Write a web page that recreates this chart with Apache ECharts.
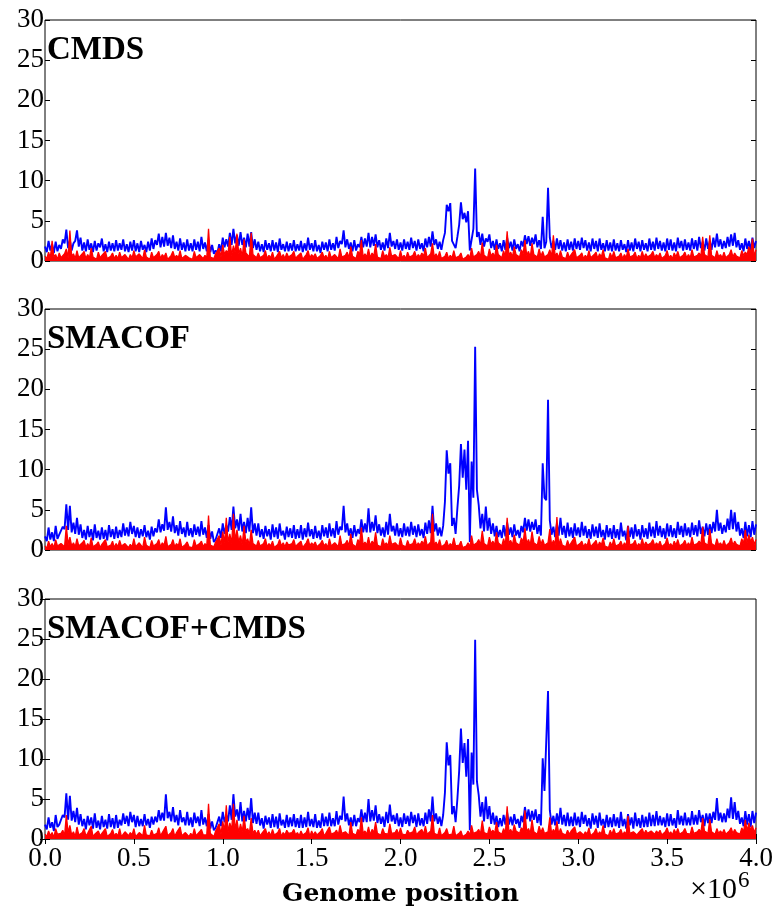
<!DOCTYPE html>
<html>
<head>
<meta charset="utf-8">
<script src="https://cdn.jsdelivr.net/npm/echarts@6/dist/echarts.min.js"></script>
<style>
  html, body { margin: 0; padding: 0; background: #fff; }
  #chart { width: 778px; height: 911px; }
</style>
</head>
<body>
<div id="chart"></div>
<script>
// Bin size along the genome (bp); bin j sits at j * BIN.
const BIN = 10000;

const methodNames = ['CMDS', 'SMACOF', 'SMACOF+CMDS'];
const yTicks = [0, 5, 10, 15, 20, 25, 30];
const xTicks = [0, 0.5, 1.0, 1.5, 2.0, 2.5, 3.0, 3.5, 4.0]; // ×10^6
const xAxisTitle = 'Genome position';

// CMDS
const cmdsBlue = [
  1.8,1.1, 2.5,1.3, 2.1,1.0, 2.4,1.2, 2.0,1.5, 2.7,2.2, 3.9,1.6, 2.6,1.3, 2.2,2.5, 3.8,1.8,
  2.9,1.3, 2.3,1.2, 2.7,1.4, 2.2,1.1, 2.5,1.3, 2.2,1.7, 2.8,1.2, 2.1,1.1, 2.4,1.3, 2.2,1.2,
  2.6,1.3, 2.2,1.4, 2.7,1.2, 2.1,1.1, 2.4,1.3, 2.6,1.2, 2.2,1.1, 2.5,1.4, 2.0,1.1, 2.4,1.3,
  2.8,1.5, 2.6,2.0, 3.4,1.7, 3.0,1.8, 3.5,1.9, 2.9,1.6, 3.2,1.5, 2.4,1.3, 2.8,1.4, 2.3,1.2,
  2.7,1.3, 2.2,1.2, 2.7,1.4, 2.4,1.2, 3.0,1.5, 2.3,1.2, 2.6,1.1, 2.0,0.9, 1.3,1.0, 2.1,1.2,
  2.9,1.7, 2.7,1.8, 3.5,2.0, 4.0,2.2, 3.2,1.9, 3.6,2.0, 2.9,1.7, 3.4,1.8, 3.6,1.6, 2.7,1.4,
  2.4,1.2, 2.1,1.1, 2.6,1.4, 2.2,1.2, 2.6,1.3, 2.3,1.1, 2.8,1.4, 2.1,1.2, 2.4,1.2, 2.2,1.3,
  2.6,1.2, 2.1,1.3, 2.5,1.1, 2.2,1.3, 2.9,1.4, 2.2,1.2, 2.6,1.2, 2.0,1.0, 2.4,1.4, 2.3,1.2,
  2.7,1.4, 2.2,1.3, 3.0,1.6, 2.5,2.1, 3.8,1.7, 2.7,1.5, 2.3,1.2, 2.6,1.3, 2.1,1.7, 3.0,1.7,
  2.8,1.8, 3.5,1.7, 3.0,1.9, 3.3,1.7, 2.6,1.4, 2.3,1.3, 2.8,1.6, 3.5,1.8, 2.5,1.5, 2.7,1.4,
  2.3,1.3, 2.7,1.5, 2.4,1.4, 2.9,1.6, 2.5,1.3, 2.7,1.5, 2.2,1.2, 2.8,1.7, 3.0,1.8, 3.7,2.0,
  2.7,1.5, 2.4,1.4, 2.6,3.5, 7.0,6.2, 7.2,2.5, 2.7,1.6, 3.0,4.5, 7.3,5.2, 6.0,4.8, 6.2,1.3,
  1.2,4.0, 11.5,3.0, 3.6,2.0, 3.4,1.8, 2.8,2.4, 3.3,1.6, 2.5,1.4, 2.7,1.5, 2.2,1.2, 2.6,1.4,
  2.9,1.6, 2.4,1.3, 2.7,1.5, 2.1,1.2, 2.5,1.8, 3.2,2.1, 3.1,1.9, 2.9,2.1, 3.3,1.7, 2.6,1.5,
  5.5,1.6, 2.4,9.1, 2.9,1.6, 2.5,1.4, 2.8,1.5, 2.6,1.3, 2.3,1.2, 2.7,1.4, 2.4,1.3, 2.8,1.5,
  2.5,1.4, 2.9,1.6, 2.6,1.3, 2.3,1.2, 2.8,1.5, 2.5,1.2, 2.8,1.4, 2.2,1.2, 2.6,1.3, 2.3,1.2,
  2.7,1.3, 2.2,1.2, 2.6,1.4, 2.1,1.1, 2.6,1.3, 2.3,1.2, 2.8,1.5, 2.4,1.2, 2.6,1.4, 2.2,1.2,
  2.8,1.4, 2.4,1.3, 2.9,1.5, 2.5,1.3, 2.3,1.2, 2.8,1.4, 2.7,1.3, 2.3,1.2, 2.9,1.6, 2.5,1.3,
  2.7,1.4, 2.3,1.3, 2.8,1.5, 2.6,1.3, 3.0,1.6, 2.4,1.3, 2.8,1.5, 2.5,1.4, 2.9,1.7, 3.4,1.8,
  2.7,1.5, 2.5,1.6, 3.0,1.8, 3.3,1.9, 3.5,1.7, 2.6,1.4, 2.2,1.2, 2.8,1.5, 2.5,1.3, 2.9,1.6, 2.5
];
const cmdsRed = [
  0.6,0.3, 1.1,0.4, 2.5,0.5, 0.8,0.2, 1.0,0.4, 0.5,0.9, 1.5,0.4, 3.8,0.6, 0.9,0.3, 1.3,0.4,
  0.5,0.9, 1.2,0.3, 0.8,0.4, 1.6,0.5, 0.6,0.2, 1.1,0.4, 0.7,0.8, 1.2,0.3, 0.4,0.6, 1.0,0.3,
  0.7,0.3, 1.1,0.4, 0.5,0.8, 1.0,0.2, 0.8,0.4, 1.3,0.5, 0.5,0.9, 0.9,0.3, 1.4,0.5, 0.6,0.2,
  1.1,0.4, 0.5,0.8, 1.2,0.3, 0.8,0.5, 1.0,0.2, 0.4,0.7, 1.2,0.4, 0.7,0.4, 1.3,0.3, 0.5,0.7,
  0.9,0.4, 0.6,0.2, 1.2,0.4, 0.5,0.8, 1.0,0.3, 0.7,0.4, 4.0,0.5, 0.7,0.3, 0.9,0.7, 1.6,0.5,
  2.0,0.8, 1.3,1.0, 3.0,0.7, 1.9,1.1, 3.4,0.9, 1.6,0.6, 2.7,1.0, 1.2,0.5, 3.5,0.8, 0.9,0.4,
  1.0,0.4, 0.5,0.7, 1.3,0.3, 0.7,0.4, 1.1,0.2, 0.5,0.6, 1.2,0.4, 0.8,0.3, 1.0,0.5, 0.4,0.8,
  1.2,0.3, 0.6,0.4, 1.0,0.2, 0.5,0.8, 1.3,0.4, 0.8,0.5, 0.9,0.3, 0.4,0.7, 1.1,0.4, 0.7,0.2,
  1.2,0.4, 0.6,0.8, 1.0,0.3, 1.5,0.5, 0.5,0.7, 1.1,0.4, 1.8,0.6, 0.7,0.3, 1.2,0.8, 2.6,0.5,
  0.9,0.5, 1.5,0.4, 1.0,0.6, 2.1,0.5, 0.6,0.3, 1.3,0.5, 0.8,0.4, 1.7,0.6, 0.5,0.8, 1.0,0.3,
  1.3,0.4, 0.7,0.3, 1.1,0.5, 0.5,0.7, 1.2,0.4, 0.8,0.5, 1.0,0.6, 1.6,0.4, 0.6,0.9, 2.2,0.5,
  0.9,0.4, 1.2,0.3, 0.5,0.6, 1.1,0.3, 0.7,0.4, 1.3,0.4, 0.4,0.6, 1.0,0.2, 0.3,0.5, 0.8,0.4,
  1.6,0.5, 0.6,0.8, 1.2,0.5, 2.3,0.7, 0.8,0.4, 1.5,0.6, 1.0,0.5, 2.0,0.8, 0.7,0.4, 1.3,0.5,
  3.7,0.7, 1.1,0.5, 1.8,0.8, 0.9,0.5, 1.4,0.9, 2.6,0.7, 1.2,0.5, 2.2,0.8, 0.9,0.5, 1.5,0.6,
  1.2,0.5, 0.7,0.8, 1.4,0.5, 3.2,0.6, 1.0,0.4, 1.3,0.5, 0.6,0.3, 1.1,0.4, 0.8,0.6, 1.4,0.4,
  0.6,0.7, 1.0,0.3, 0.7,0.4, 1.3,0.4, 0.5,0.8, 1.1,0.3, 0.9,0.5, 1.4,0.4, 0.6,0.2, 1.0,0.4,
  1.2,0.4, 0.5,0.6, 1.0,0.3, 0.8,0.4, 1.5,0.5, 0.4,0.7, 1.1,0.3, 0.7,0.4, 1.2,0.4, 0.9,0.5,
  0.6,0.8, 1.2,0.4, 0.8,0.5, 1.0,0.3, 0.5,0.7, 1.3,0.4, 0.7,0.3, 1.0,0.5, 1.2,0.4, 0.6,0.7,
  1.1,0.4, 0.8,0.4, 1.4,0.5, 0.5,0.7, 1.0,0.6, 3.0,0.8, 0.9,0.5, 3.2,0.7, 0.7,0.4, 1.3,0.5,
  0.8,0.4, 1.1,0.4, 0.6,0.8, 1.4,0.5, 1.0,0.6, 0.7,0.4, 1.3,0.7, 1.1,0.8, 1.8,0.9, 2.8,0.6, 1.4
];

// SMACOF
const smacofBlue = [
  1.7,1.1, 2.8,1.3, 2.2,1.1, 3.0,1.4, 1.9,1.7, 2.9,2.6, 5.7,2.5, 5.5,2.2, 3.4,2.0, 4.0,1.9,
  3.2,1.5, 2.5,1.3, 3.0,1.6, 2.6,1.2, 3.2,1.5, 2.4,1.3, 2.8,1.4, 2.5,1.2, 3.1,1.6, 2.6,1.4,
  2.9,1.5, 2.5,1.6, 3.3,1.8, 2.8,1.7, 3.5,2.0, 3.0,1.6, 2.8,1.5, 2.6,1.7, 3.1,1.6, 2.4,1.3,
  2.9,1.7, 2.7,2.2, 3.8,2.2, 3.2,2.4, 5.3,2.5, 3.5,2.3, 4.2,2.1, 3.1,1.8, 3.6,2.0, 2.8,1.6,
  3.5,1.8, 2.7,1.6, 3.2,1.9, 2.9,1.7, 3.6,1.9, 2.8,1.5, 3.1,1.4, 2.3,1.0, 1.3,1.2, 2.7,1.5,
  3.3,2.0, 3.1,2.3, 4.1,2.5, 5.4,2.7, 3.8,2.4, 4.5,2.3, 3.5,2.1, 4.0,2.3, 5.3,2.1, 3.3,1.8,
  3.3,1.6, 2.6,1.4, 3.0,1.7, 2.6,1.3, 3.2,1.6, 2.8,1.4, 3.3,1.8, 2.4,1.3, 2.9,1.6, 2.7,1.5,
  3.1,1.4, 2.6,1.5, 3.1,1.3, 2.7,1.6, 3.4,1.7, 2.6,1.4, 3.0,1.5, 2.4,1.3, 3.1,1.7, 2.8,1.5,
  3.3,1.7, 2.7,1.5, 3.6,1.9, 2.9,2.5, 5.5,2.2, 3.3,1.8, 2.7,1.5, 3.1,1.7, 2.6,2.0, 3.8,2.2,
  3.3,2.2, 5.2,2.2, 3.5,2.4, 4.3,2.1, 3.2,1.8, 2.8,1.6, 3.5,1.9, 4.5,2.3, 3.0,1.8, 3.3,1.7,
  2.7,1.6, 3.3,1.8, 2.9,1.7, 3.5,1.9, 3.0,1.6, 3.2,1.8, 2.6,1.5, 3.4,2.0, 3.7,2.1, 5.5,2.3,
  3.3,1.8, 2.8,1.7, 3.0,6.0, 12.4,9.5, 10.8,3.0, 4.0,2.0, 5.2,8.0, 13.2,9.0, 12.5,7.5, 13.6,1.0,
  11.0,6.5, 25.3,7.5, 5.6,2.7, 4.5,2.3, 5.4,2.4, 4.0,2.0, 3.3,1.7, 3.0,1.6, 2.5,1.5, 3.1,1.7,
  3.4,1.9, 2.8,1.6, 3.2,1.8, 2.5,1.5, 3.0,2.2, 4.0,2.4, 3.8,2.3, 3.5,2.5, 3.8,2.0, 3.1,1.8,
  10.8,6.5, 6.2,18.7, 3.7,1.9, 2.9,1.6, 3.3,1.8, 4.0,1.9, 3.0,1.5, 3.4,1.7, 2.8,1.5, 3.3,1.8,
  2.8,1.6, 3.5,1.8, 3.0,1.5, 2.6,1.4, 3.2,1.7, 2.9,1.5, 3.3,1.6, 2.5,1.3, 3.1,1.6, 2.7,1.4,
  3.1,1.5, 2.6,1.3, 3.4,1.7, 2.4,1.2, 3.0,1.6, 2.8,1.4, 3.2,1.7, 2.6,1.3, 3.1,1.6, 2.7,1.4,
  3.4,1.7, 2.9,1.5, 3.6,1.8, 3.0,1.6, 2.7,1.4, 3.3,1.7, 3.1,1.6, 2.7,1.5, 3.5,1.9, 3.0,1.6,
  3.3,1.8, 2.8,1.6, 3.4,1.9, 3.1,1.7, 3.7,2.0, 2.9,1.7, 3.3,1.9, 3.2,2.1, 3.5,2.3, 5.0,2.4,
  3.4,2.0, 3.1,2.2, 3.9,2.5, 5.0,2.6, 4.7,2.3, 3.5,1.8, 2.7,1.5, 3.5,1.7, 3.1,1.6, 3.6,1.9, 3.2
];
const smacofRed = [
  0.5,0.2, 1.1,0.4, 0.8,0.3, 1.3,0.5, 0.4,0.8, 1.0,0.4, 3.0,0.7, 1.6,0.5, 0.9,0.4, 1.4,0.5,
  0.6,0.9, 1.2,0.3, 0.8,0.4, 1.5,0.4, 0.5,0.7, 1.0,0.3, 0.7,0.5, 1.3,0.4, 0.4,0.6, 1.1,0.3,
  0.8,0.4, 1.2,0.5, 0.5,0.8, 1.0,0.3, 0.7,0.4, 1.4,0.4, 0.4,0.9, 1.0,0.3, 1.6,0.6, 0.6,0.3,
  1.2,0.5, 0.5,0.8, 1.3,0.4, 0.9,0.6, 1.7,0.4, 0.6,0.7, 1.3,0.4, 0.8,0.5, 1.4,0.3, 0.4,0.7,
  1.0,0.4, 0.6,0.3, 1.3,0.5, 0.5,0.8, 1.1,0.4, 0.8,0.5, 4.3,0.6, 0.7,0.4, 1.0,0.8, 1.8,0.6,
  2.3,0.9, 4.0,1.0, 2.0,0.8, 4.5,1.2, 2.5,1.0, 1.8,0.7, 3.0,1.0, 1.4,0.6, 2.5,0.8, 1.0,0.5,
  1.2,0.5, 0.6,0.8, 1.4,0.4, 0.8,0.5, 1.1,0.3, 0.5,0.7, 1.3,0.5, 0.9,0.4, 1.0,0.6, 0.4,0.8,
  1.3,0.4, 0.7,0.5, 1.1,0.3, 0.6,0.9, 1.4,0.5, 0.9,0.6, 1.0,0.4, 0.5,0.8, 1.2,0.5, 0.8,0.3,
  1.4,0.5, 0.7,0.9, 1.0,0.4, 1.8,0.6, 0.6,0.8, 1.2,0.5, 2.0,0.7, 0.8,0.4, 1.3,0.9, 2.8,0.6,
  1.0,0.6, 1.6,0.5, 1.1,0.7, 2.2,0.6, 0.7,0.4, 1.4,0.6, 0.9,0.5, 1.8,0.7, 0.6,0.9, 1.1,0.4,
  1.5,0.6, 0.8,0.4, 1.2,0.6, 0.5,0.8, 1.4,0.5, 0.9,0.6, 1.1,0.7, 1.7,0.5, 0.7,1.0, 4.5,0.6,
  1.0,0.5, 1.3,0.4, 0.6,0.7, 1.2,0.4, 0.8,0.5, 1.5,0.5, 0.4,0.6, 1.1,0.3, 0.3,0.5, 0.9,0.4,
  1.8,0.6, 0.7,0.9, 1.3,0.6, 2.4,0.8, 0.9,0.5, 1.6,0.7, 1.1,0.6, 2.2,0.9, 0.8,0.5, 1.4,0.6,
  4.0,0.8, 1.2,0.6, 1.9,0.9, 1.0,0.6, 1.5,1.0, 2.7,0.8, 1.3,0.6, 2.3,0.9, 1.0,0.6, 1.7,0.7,
  1.3,0.6, 0.8,0.9, 2.6,0.6, 1.2,0.7, 4.1,0.5, 1.4,0.6, 0.7,0.4, 1.2,0.5, 0.9,0.7, 1.6,0.5,
  0.6,0.8, 1.1,0.4, 0.8,0.5, 1.4,0.4, 0.5,0.9, 1.2,0.4, 1.0,0.6, 1.5,0.5, 0.7,0.3, 1.0,0.5,
  1.4,0.5, 0.6,0.7, 1.1,0.4, 0.9,0.5, 3.0,0.6, 0.5,0.8, 1.2,0.4, 0.8,0.5, 1.4,0.5, 1.0,0.6,
  0.7,0.9, 1.3,0.5, 0.9,0.6, 1.1,0.4, 0.6,0.8, 1.5,0.5, 0.8,0.4, 1.1,0.6, 1.3,0.5, 0.7,0.8,
  1.2,0.5, 0.9,0.5, 1.6,0.6, 0.6,0.8, 1.1,0.7, 2.9,0.9, 1.0,0.6, 2.6,0.8, 0.8,0.5, 1.4,0.6,
  0.9,0.5, 1.2,0.5, 0.7,0.9, 1.5,0.6, 1.1,0.7, 0.8,0.5, 1.4,0.8, 2.5,0.9, 1.9,1.0, 1.6,0.7, 1.3
];

// SMACOF+CMDS
const hybridBlue = [
  1.8,1.2, 2.7,1.4, 2.1,1.0, 3.0,1.5, 1.8,1.8, 3.0,2.7, 5.7,2.4, 5.4,2.3, 3.5,2.1, 3.9,1.8,
  3.1,1.6, 2.5,1.2, 2.9,1.7, 2.7,1.3, 3.2,1.4, 2.3,1.2, 2.9,1.5, 2.4,1.3, 3.1,1.5, 2.6,1.3,
  3.0,1.4, 2.4,1.7, 3.2,1.9, 2.9,1.6, 3.4,2.1, 3.0,1.5, 2.9,1.6, 2.5,1.6, 3.1,1.7, 2.5,1.4,
  2.8,1.8, 2.8,2.1, 3.6,2.3, 3.3,2.3, 5.6,2.6, 3.4,2.2, 4.0,2.1, 3.0,1.7, 3.6,2.1, 2.7,1.7,
  3.4,1.7, 2.7,1.5, 3.3,2.0, 2.8,1.6, 3.6,1.8, 2.7,1.6, 3.1,1.3, 2.2,1.1, 1.4,1.3, 2.8,1.6,
  3.4,2.1, 3.0,2.2, 4.2,2.4, 5.6,2.8, 3.7,2.3, 4.6,2.2, 3.5,2.2, 3.9,2.4, 5.1,2.0, 3.3,1.9,
  3.3,1.7, 2.6,1.3, 2.9,1.8, 2.7,1.4, 3.1,1.5, 2.8,1.3, 3.2,1.7, 2.4,1.4, 3.0,1.5, 2.7,1.6,
  3.1,1.5, 2.6,1.4, 3.0,1.4, 2.7,1.5, 3.4,1.6, 2.5,1.5, 3.1,1.4, 2.3,1.4, 3.2,1.6, 2.8,1.6,
  3.3,1.6, 2.6,1.6, 3.5,1.8, 2.9,2.4, 5.3,2.2, 3.2,1.7, 2.7,1.6, 3.0,1.6, 2.6,2.1, 3.7,2.1,
  3.3,2.1, 5.0,2.2, 3.6,2.3, 4.2,2.0, 3.1,1.9, 2.8,1.5, 3.4,2.0, 4.3,2.2, 3.0,1.9, 3.2,1.6,
  2.7,1.5, 3.2,1.9, 2.9,1.6, 3.4,2.0, 3.0,1.5, 3.2,1.7, 2.6,1.6, 3.3,1.9, 3.7,2.2, 5.3,2.2,
  3.2,1.9, 2.8,1.6, 3.0,5.8, 12.1,9.2, 10.5,3.1, 4.1,2.1, 5.0,8.5, 13.8,9.5, 12.0,7.8, 12.5,1.1,
  10.8,6.8, 24.9,7.2, 5.5,2.8, 4.6,2.2, 5.3,2.5, 4.1,1.9, 3.3,1.8, 2.9,1.5, 2.6,1.6, 3.0,1.8,
  3.3,1.8, 2.8,1.7, 3.1,1.9, 2.5,1.4, 2.9,2.1, 4.0,2.5, 3.7,2.2, 3.5,2.4, 3.7,2.0, 3.1,1.7,
  10.1,6.0, 5.8,18.5, 3.6,1.8, 2.9,1.7, 3.2,1.9, 3.9,1.8, 3.0,1.6, 3.3,1.6, 2.8,1.6, 3.3,1.7,
  2.8,1.5, 3.4,1.9, 3.0,1.6, 2.6,1.3, 3.2,1.8, 2.9,1.4, 3.3,1.7, 2.5,1.4, 3.0,1.5, 2.7,1.5,
  3.1,1.6, 2.7,1.4, 3.4,1.6, 2.5,1.3, 3.1,1.7, 2.7,1.3, 3.3,1.6, 2.6,1.4, 3.0,1.5, 2.8,1.5,
  3.3,1.6, 3.0,1.6, 3.5,1.7, 2.9,1.7, 2.7,1.5, 3.2,1.6, 3.1,1.7, 2.6,1.4, 3.6,1.8, 2.9,1.7,
  3.3,1.7, 2.7,1.7, 3.5,1.8, 3.0,1.8, 3.6,2.1, 3.0,1.6, 3.2,2.0, 3.2,2.0, 3.4,2.4, 5.1,2.3,
  3.3,2.1, 3.2,2.1, 3.8,2.6, 5.2,2.5, 4.6,2.4, 3.5,1.9, 2.7,1.6, 3.5,1.8, 3.1,1.5, 3.5,2.0, 3.3
];
const hybridRed = [
  0.6,0.3, 1.0,0.4, 0.8,0.2, 1.3,0.6, 0.5,0.7, 1.1,0.4, 3.0,0.8, 1.7,0.5, 0.9,0.3, 1.5,0.5,
  0.5,0.8, 1.3,0.4, 0.7,0.5, 1.6,0.3, 0.6,0.8, 1.0,0.4, 0.7,0.5, 1.3,0.3, 0.5,0.7, 1.2,0.4,
  0.7,0.4, 1.3,0.3, 0.4,0.9, 1.0,0.4, 0.8,0.5, 1.3,0.3, 0.5,0.8, 1.0,0.4, 1.7,0.5, 0.7,0.4,
  1.1,0.5, 0.6,0.7, 1.4,0.4, 0.8,0.6, 1.6,0.4, 0.5,0.8, 1.3,0.3, 0.8,0.6, 1.5,0.4, 0.5,0.8,
  1.0,0.3, 0.7,0.4, 1.3,0.4, 0.6,0.9, 1.2,0.5, 0.7,0.5, 4.4,0.7, 0.8,0.3, 1.0,0.9, 1.9,0.6,
  2.2,1.0, 4.2,0.9, 2.0,1.1, 4.4,1.2, 2.4,0.8, 1.9,0.9, 2.9,1.0, 1.3,0.7, 2.6,0.7, 1.1,0.6,
  1.1,0.4, 0.7,0.8, 1.3,0.5, 0.9,0.4, 1.2,0.5, 0.6,0.8, 1.3,0.3, 0.8,0.5, 1.1,0.7, 0.5,0.8,
  1.2,0.5, 0.8,0.4, 1.0,0.5, 0.7,0.8, 1.4,0.3, 1.0,0.5, 0.9,0.5, 0.6,0.9, 1.3,0.4, 0.7,0.5,
  1.5,0.6, 0.6,0.8, 1.1,0.5, 1.7,0.7, 0.7,0.9, 1.1,0.4, 2.1,0.7, 0.8,0.5, 1.2,0.8, 2.7,0.7,
  1.0,0.6, 1.5,0.5, 1.2,0.8, 2.1,0.7, 0.7,0.5, 1.3,0.7, 0.9,0.6, 1.9,0.7, 0.5,0.8, 1.2,0.5,
  1.4,0.6, 0.8,0.5, 1.1,0.7, 0.6,0.9, 1.5,0.5, 0.8,0.6, 1.2,0.6, 1.6,0.6, 0.8,1.0, 3.0,0.7,
  0.9,0.5, 1.4,0.4, 0.5,0.8, 1.3,0.5, 0.7,0.6, 1.6,0.4, 0.5,0.7, 1.0,0.3, 0.3,0.6, 1.0,0.5,
  1.7,0.7, 0.8,0.9, 1.2,0.6, 2.3,0.8, 0.9,0.6, 1.5,0.8, 1.1,0.7, 2.1,0.9, 0.8,0.6, 1.3,0.7,
  4.1,0.9, 1.2,0.7, 1.8,1.0, 1.0,0.7, 1.4,1.1, 3.6,0.9, 1.3,0.7, 2.4,0.9, 1.1,0.6, 1.6,0.8,
  1.4,0.7, 0.8,0.9, 2.7,0.7, 1.2,0.8, 2.2,0.6, 1.3,0.7, 0.8,0.5, 1.1,0.6, 1.0,0.8, 1.5,0.6,
  0.7,0.9, 1.0,0.5, 0.9,0.6, 1.4,0.4, 0.6,0.8, 1.3,0.5, 0.9,0.6, 1.7,0.6, 0.6,0.4, 1.1,0.6,
  1.3,0.6, 0.7,0.8, 1.2,0.5, 0.9,0.6, 2.9,0.7, 0.6,0.9, 1.1,0.5, 0.8,0.6, 1.3,0.6, 1.1,0.7,
  0.8,1.0, 1.2,0.6, 1.0,0.7, 1.1,0.5, 0.7,0.9, 1.4,0.6, 0.9,0.5, 1.2,0.7, 1.3,0.6, 0.8,0.9,
  1.3,0.7, 0.9,0.6, 1.5,0.7, 0.7,0.9, 1.2,0.8, 2.6,1.0, 1.1,0.7, 2.5,0.9, 0.9,0.6, 1.3,0.7,
  1.0,0.7, 1.2,0.6, 0.8,1.0, 1.4,0.7, 1.2,0.8, 0.9,0.6, 1.4,0.9, 2.4,1.0, 2.0,1.1, 1.7,0.8, 1.4
];

const SERIF = '"Liberation Serif", "DejaVu Serif", serif';
const BLUE = '#0000ff';
const RED = '#ff0000';

// Panel frames (pixels) and the data each one shows.
const PLOT_LEFT = 45;
const PLOT_WIDTH = 711;
const panels = [
  { name: methodNames[0], blue: cmdsBlue, red: cmdsRed, top: 20, height: 241 },
  { name: methodNames[1], blue: smacofBlue, red: smacofRed, top: 309, height: 241 },
  { name: methodNames[2], blue: hybridBlue, red: hybridRed, top: 599, height: 240 }
];

const toPairs = arr => arr.map((v, j) => [j * BIN, v]);

const grid = [], xAxis = [], yAxis = [], series = [], graphic = [];
const last = panels.length - 1;
const xMax = xTicks[xTicks.length - 1] * 1e6;

panels.forEach((p, k) => {
  grid.push({
    left: PLOT_LEFT, width: PLOT_WIDTH, top: p.top, height: p.height,
    show: true, borderColor: '#000', borderWidth: 1, backgroundColor: 'transparent'
  });
  const isBottom = k === last;
  const xi = xAxis.length;
  xAxis.push({
    gridIndex: k, type: 'value', position: 'bottom',
    min: 0, max: xMax, interval: 0.5e6,
    axisLine: { show: false },
    axisTick: { show: isBottom, inside: true, length: 5, lineStyle: { color: '#000', width: 1 } },
    axisLabel: {
      show: isBottom, margin: 6, color: '#000', fontFamily: SERIF, fontSize: 27,
      formatter: v => (v / 1e6).toFixed(1)
    },
    splitLine: { show: false }
  });
  if (isBottom) {
    xAxis.push({
      gridIndex: k, type: 'value', position: 'top',
      min: 0, max: xMax, interval: 0.5e6,
      axisLine: { show: false },
      axisTick: { show: true, inside: true, length: 5, lineStyle: { color: '#000', width: 1 } },
      axisLabel: { show: false }, splitLine: { show: false }
    });
  }
  const yi = yAxis.length;
  ['left', 'right'].forEach(pos => {
    yAxis.push({
      gridIndex: k, type: 'value', position: pos,
      min: yTicks[0], max: yTicks[yTicks.length - 1], interval: 5,
      axisLine: { show: false },
      axisTick: { show: true, inside: true, length: 5, lineStyle: { color: '#000', width: 1 } },
      axisLabel: {
        show: pos === 'left', margin: 1, color: '#000', fontFamily: SERIF, fontSize: 27
      },
      splitLine: { show: false }
    });
  });

  // Dense traces: no sampling, every bin drawn.
  series.push({
    type: 'line', xAxisIndex: xi, yAxisIndex: yi, data: toPairs(p.blue),
    showSymbol: false, symbol: 'none', animation: false, z: 2, sampling: null,
    lineStyle: { color: BLUE, width: 1.9, join: 'bevel' }
  });
  series.push({
    type: 'line', xAxisIndex: xi, yAxisIndex: yi, data: toPairs(p.red),
    showSymbol: false, symbol: 'none', animation: false, z: 3, sampling: null,
    lineStyle: { color: RED, width: 1.3, join: 'bevel' },
    areaStyle: { color: RED, opacity: 1 }
  });

  graphic.push({
    type: 'text', left: PLOT_LEFT + 2, top: p.top + 14, z: 10,
    style: { text: p.name, fontFamily: SERIF, fontWeight: 'bold', fontSize: 33, fill: '#000' }
  });
});

// Axis title and the ×10^6 multiplier under the bottom panel.
graphic.push({
  type: 'text', x: PLOT_LEFT + PLOT_WIDTH / 2, y: 894, z: 10,
  style: {
    text: xAxisTitle, fontFamily: '"DejaVu Serif", serif', fontWeight: 'bold', fontSize: 25,
    fill: '#000', align: 'center', verticalAlign: 'middle'
  }
});
graphic.push({
  type: 'text', x: 737, y: 890, z: 10,
  style: { text: '×10', fontFamily: SERIF, fontSize: 30, fill: '#000', align: 'right', verticalAlign: 'middle' }
});
graphic.push({
  type: 'text', x: 738, y: 881, z: 10,
  style: { text: '6', fontFamily: SERIF, fontSize: 23, fill: '#000', align: 'left', verticalAlign: 'middle' }
});

const chart = echarts.init(document.getElementById('chart'), null, { renderer: 'canvas' });
chart.setOption({
  animation: false,
  backgroundColor: '#fff',
  grid, xAxis, yAxis, series, graphic
});
</script>
</body>
</html>
